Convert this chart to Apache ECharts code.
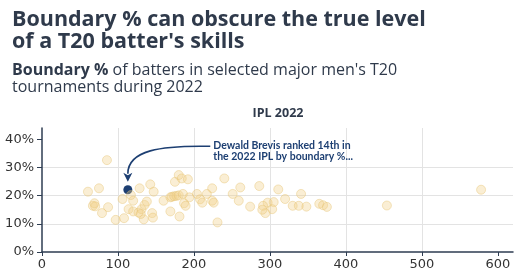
<!DOCTYPE html>
<html><head><meta charset="utf-8">
<script src="https://cdn.jsdelivr.net/npm/echarts@6/dist/echarts.min.js"></script>
<style>html,body{margin:0;padding:0;background:#fff}#c{width:520px;height:272px}</style>
</head><body><div id="c"></div>
<script>
// Balls faced (x) vs boundary % (y), IPL 2022
const otherBatters = [
  [60.5,21.4],[75,22.6],[85.5,32.6],[67,16.4],[69,17.3],[70,16.2],[87,15.9],[79,13.8],[97,11.4],[108,12],
  [106,18.8],[117,20.2],[120,18.2],[128.5,22.6],[114,15.2],[120,14.4],[127,14],[131,15.2],[134,11.6],[135,16.7],
  [138,17.9],[142.5,24],[147,21.4],[145,13.8],[146,12.2],[130,13.5],[160,18.2],[169,19.4],[171,19.6],[174,19.8],
  [177,19.9],[180,20.1],[169,14.4],[181,12.6],[175,24.9],[180,27.3],[184,26.1],[192,25.8],[185.5,20.6],[187,17.3],
  [189,16.4],[194,19.4],[204,20.6],[208,18.7],[211,17.5],[217,20.6],[224,22.6],[224,18.2],[226,17.5],[231,10.5],
  [240,26.1],[251,20.6],[259,18.2],[261,22.9],[274,16.1],[286,23.4],[311,22.2],[341,20.6],[320,18.8],[305,17.7],
  [297,17.5],[291,16.4],[303,15.2],[294,13.8],[290,15],[330,16.4],[338,16.4],[348,16.1],[365,17.1],[370,16.6],
  [375,16],[454,16.5],[578,22.1]
];
const brevis = [[113,22.1]];
const xTickValues = [0,100,200,300,400,500,600];
const yTickValues = [0,10,20,30,40];
const titleText = "Boundary % can obscure the true level\nof a T20 batter's skills";
const subtitleBold = "Boundary %";
const subtitleRest1 = " of batters in selected major men's T20";
const subtitleRest2 = "tournaments during 2022";
const panelTitle = "IPL 2022";
const annotationText = "Dewald Brevis ranked 14th in\nthe 2022 IPL by boundary %...";

const chart = echarts.init(document.getElementById('c'), null, {renderer:'canvas'});
const dark = '#2f3a4b';
const navy = '#1d3f72';
const axisFont = 'DejaVu Sans';
const titleFont = 'Open Sans';
const annFont = 'Lato';

chart.setOption({
  animation:false,
  backgroundColor:'#fff',
  title:[
    {text:titleText,left:7,top:4,textStyle:{fontFamily:titleFont,fontWeight:'bold',fontSize:21.5,lineHeight:22,color:dark}},
    {text:'{b|'+subtitleBold+'}{n|'+subtitleRest1+'}\n{n|'+subtitleRest2+'}',left:7,top:57,
     textStyle:{rich:{
       b:{fontFamily:titleFont,fontWeight:'bold',fontSize:16,lineHeight:17,color:dark},
       n:{fontFamily:titleFont,fontWeight:'normal',fontSize:16,lineHeight:17,color:dark}}}}
  ],
  grid:{left:42,right:7,top:128,bottom:20,containLabel:false},
  xAxis:{type:'value',min:0,max:620,interval:100,
    axisLine:{show:true,lineStyle:{color:'#2e3d52',width:1.5}},
    axisTick:{show:true,length:4,customValues:xTickValues,lineStyle:{color:'#2e3d52'}},
    axisLabel:{customValues:xTickValues,margin:6,fontFamily:axisFont,fontSize:13,color:'#333'},
    splitLine:{show:true,showMinLine:false,showMaxLine:false,lineStyle:{color:'#e3e3e3',width:1}}},
  yAxis:{type:'value',min:0,max:44,interval:10,
    axisLine:{show:true,lineStyle:{color:'#2e3d52',width:1.5}},
    axisTick:{show:true,length:5,customValues:yTickValues,lineStyle:{color:'#2e3d52'}},
    axisLabel:{customValues:yTickValues,margin:8,fontFamily:axisFont,fontSize:13,color:'#333',formatter:v=>v+'%'},
    splitLine:{show:true,showMinLine:false,showMaxLine:false,lineStyle:{color:'#e3e3e3',width:1}}},
  series:[
    {type:'scatter',data:brevis,symbolSize:9,z:2,itemStyle:{color:navy,opacity:1}},
    {type:'scatter',data:otherBatters,symbolSize:9,z:3,
      itemStyle:{color:'rgba(240,208,135,0.45)',borderColor:'rgba(230,195,115,0.55)',borderWidth:1}}
  ]
});

function drawAnnotations(){
  const p = chart.convertToPixel({gridIndex:0}, brevis[0]);
  const a = chart.convertToPixel({gridIndex:0}, [221.5, 37.5]);
  const tip = [p[0], p[1]-8];
  const end = [tip[0], tip[1]-8];
  chart.setOption({graphic:[
    {type:'text',x:278,y:107,style:{text:panelTitle,fontFamily:titleFont,fontWeight:'bold',fontSize:12.5,fill:dark,align:'center',textAlign:'center'}},
    {type:'bezierCurve',shape:{x1:a[0],y1:a[1],cpx1:a[0]-50,cpy1:a[1]-1,cpx2:end[0],cpy2:a[1]+4,x2:end[0],y2:end[1]},
      style:{stroke:navy,lineWidth:1.6,fill:null},z:10},
    {type:'polygon',shape:{points:[[tip[0]-4.5,tip[1]-9],[tip[0],tip[1]-6.5],[tip[0]+4.5,tip[1]-9],[tip[0],tip[1]]]},style:{fill:navy},z:10},
    {type:'text',x:a[0]+3,y:a[1]-6,style:{text:annotationText,fontFamily:annFont,fontWeight:'bold',fontSize:10.5,lineHeight:11,fill:navy},z:10}
  ]});
}
drawAnnotations();
</script>
</body></html>
